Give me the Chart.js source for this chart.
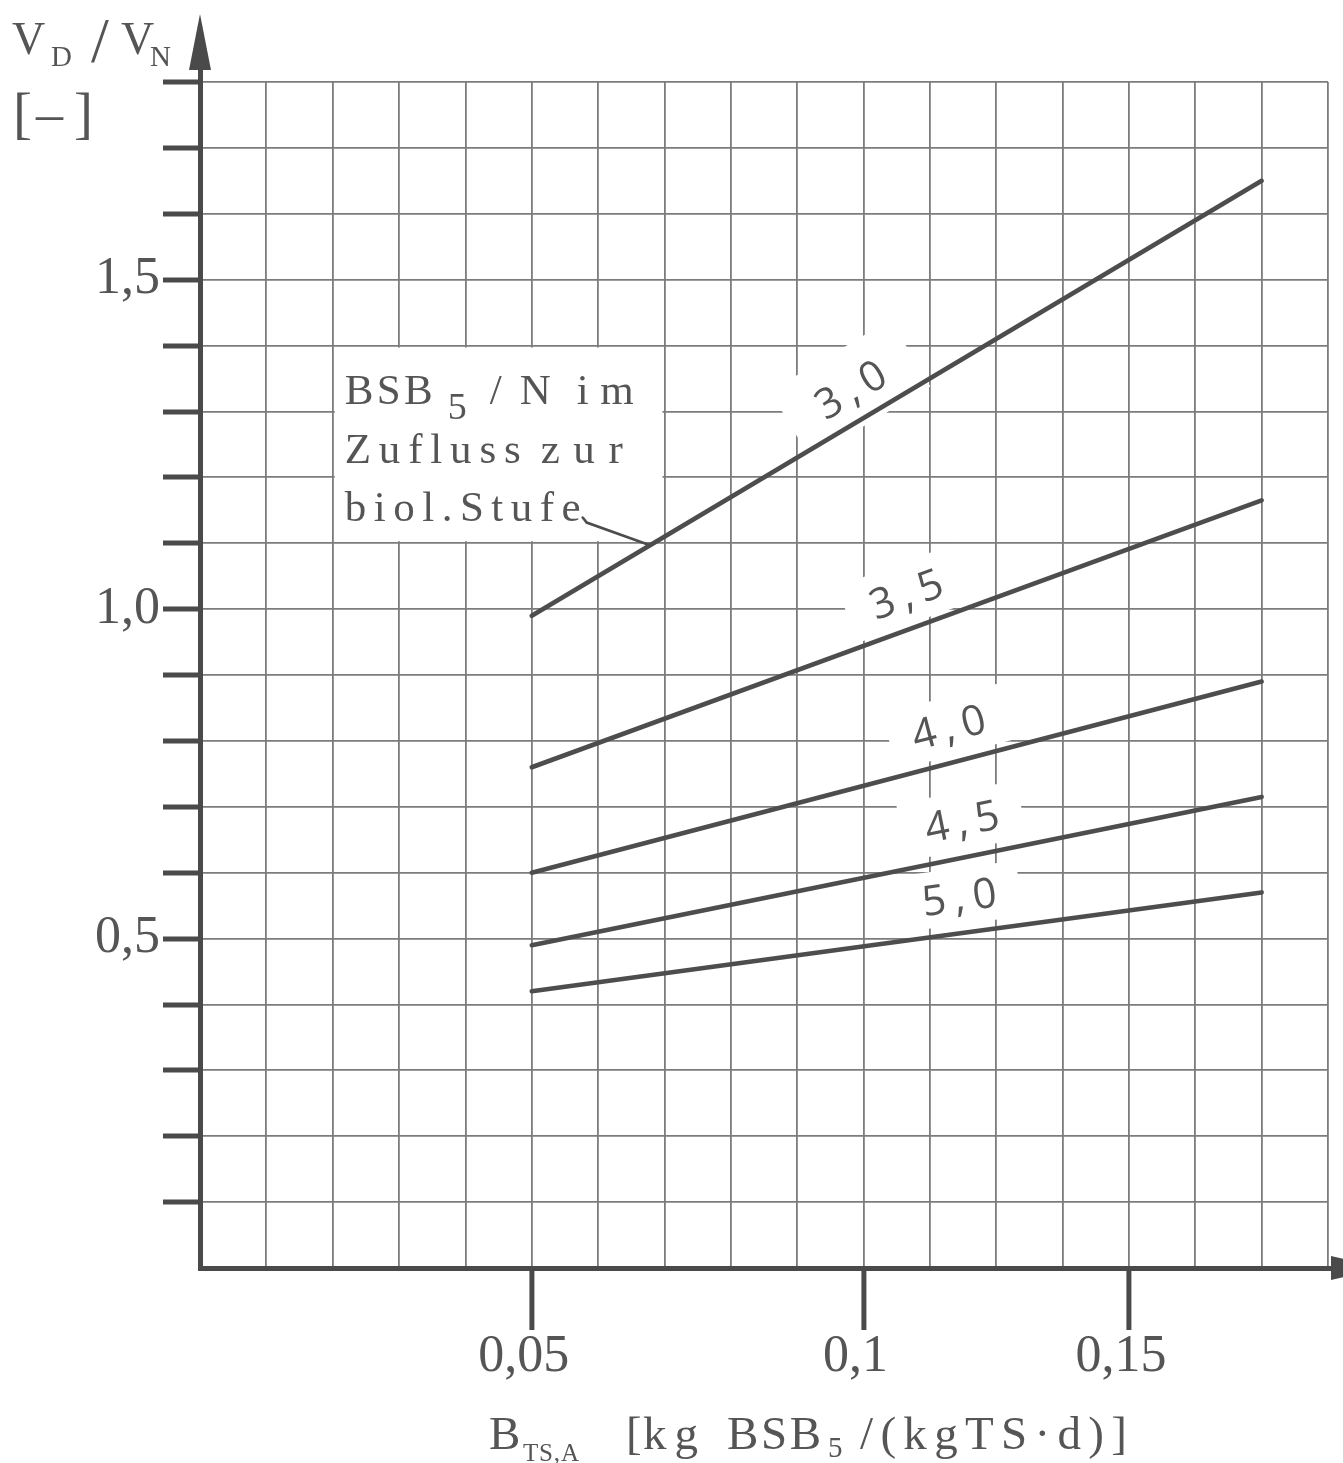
<!DOCTYPE html>
<html><head><meta charset="utf-8">
<script src="https://cdn.jsdelivr.net/npm/chart.js@4"></script>
<style>html,body{margin:0;padding:0;background:#fff;}canvas{display:block;}</style>
</head><body>
<canvas id="c" width="1343" height="1463"></canvas>
<script>
// ---- data ----
const btsValues = [0.05, 0.175];           // B_TS,A at start and end of each curve
const ratio30 = [0.99, 1.65];
const ratio35 = [0.76, 1.165];
const ratio40 = [0.60, 0.89];
const ratio45 = [0.49, 0.715];
const ratio50 = [0.42, 0.57];
const curveNames = ['3,0', '3,5', '4,0', '4,5', '5,0'];
const xTickValues = [0.05, 0.1, 0.15];
const xTickTexts = ['0,05', '0,1', '0,15'];
const yTickValues = [0.5, 1.0, 1.5];
const yTickTexts = ['0,5', '1,0', '1,5'];

// ---- style ----
const TEXT = '#555555', AXIS = '#4a4a4a', GRID = '#7c7c7c', CURVE = '#4d4d4d';
const SERIF = '"Liberation Serif", "Times New Roman", serif';
const LFONT = '"Open Sans", "DejaVu Sans", sans-serif';

// The printed x axis: 0.01 per division up to 0.1, then 0.0125 per division.
const DIVS = 17;
function valueToDiv(v) { return v <= 0.1 ? v / 0.01 : 10 + (v - 0.1) / 0.0125; }
function divToValue(d) { return d <= 10 ? d * 0.01 : 0.1 + (d - 10) * 0.0125; }

class DrawnScale extends Chart.LinearScale {
  getPixelForValue(value) {
    if (value === null || value === undefined || isNaN(value)) return NaN;
    return this.getPixelForDecimal(valueToDiv(value) / DIVS);
  }
  getValueForPixel(pixel) {
    return divToValue(this.getDecimalForPixel(pixel) * DIVS);
  }
}
DrawnScale.id = 'drawn';
DrawnScale.defaults = {};
Chart.register(DrawnScale);

function findIdx(arr, v) { return arr.findIndex(t => Math.abs(t - v) < 1e-6); }

const curveValues = [ratio30, ratio35, ratio40, ratio45, ratio50];
const datasets = curveValues.map((vals, i) => ({
  label: curveNames[i],
  data: btsValues.map((x, j) => ({ x: x, y: vals[j] })),
  borderColor: CURVE, borderWidth: 4.6, borderCapStyle: 'round',
  pointRadius: 0, tension: 0, fill: false
}));

// helpers for spaced text
function charWidths(ctx, text) { return [...text].map(c => ctx.measureText(c).width); }
function drawFit(ctx, text, x0, x1, y) {
  const chars = [...text], w = charWidths(ctx, text);
  const total = w.reduce((a, b) => a + b, 0);
  const gap = chars.length > 1 ? (x1 - x0 - total) / (chars.length - 1) : 0;
  let x = x0;
  chars.forEach((c, i) => { ctx.fillText(c, x, y); x += w[i] + gap; });
}
function drawSpacedCentered(ctx, text, cx, y, gap) {
  const chars = [...text], w = charWidths(ctx, text);
  const total = w.reduce((a, b) => a + b, 0) + gap * (chars.length - 1);
  let x = cx - total / 2;
  chars.forEach((c, i) => { ctx.fillText(c, x, y); x += w[i] + gap; });
}

const labelAt = [0.098, 0.108, 0.116, 0.1185, 0.118];
const patchSize = [[140, 78], [125, 60], [122, 58], [122, 58], [122, 56]];
function labelGeometry(chart) {
  const xs = chart.scales.x;
  return curveNames.map((n, i) => {
    const pts = chart.getDatasetMeta(i).data;
    const a = pts[0], b = pts[1];
    const angle = Math.atan2(b.y - a.y, b.x - a.x);
    const px = xs.getPixelForValue(labelAt[i]);
    const t = (px - a.x) / (b.x - a.x);
    const ly = a.y + t * (b.y - a.y);
    return { cx: px, cy: ly - 37, angle: angle, w: patchSize[i][0], h: patchSize[i][1] };
  });
}
function boxRect(chart) {
  const xs = chart.scales.x, ys = chart.scales.y;
  return { l: xs.getPixelForValue(0.02), r: xs.getPixelForValue(0.07),
           t: ys.getPixelForValue(1.4), b: ys.getPixelForValue(1.1) };
}

const drawing = {
  id: 'drawing',
  beforeDatasetsDraw(chart) {
    const ctx = chart.ctx;
    ctx.save();
    ctx.fillStyle = '#ffffff';
    const bx = boxRect(chart);
    ctx.fillRect(bx.l + 2, bx.t + 2, bx.r - bx.l - 4, bx.b - bx.t - 4);
    labelGeometry(chart).forEach(g => {
      ctx.save(); ctx.translate(g.cx, g.cy); ctx.rotate(g.angle);
      ctx.fillRect(-g.w / 2, -g.h / 2, g.w, g.h);
      ctx.restore();
    });
    ctx.restore();
  },
  afterDatasetsDraw(chart) {
    const ctx = chart.ctx;
    ctx.save();
    ctx.fillStyle = TEXT; ctx.textAlign = 'left'; ctx.textBaseline = 'alphabetic';
    // curve labels
    labelGeometry(chart).forEach((g, i) => {
      ctx.save(); ctx.translate(g.cx, g.cy); ctx.rotate(g.angle);
      ctx.font = '42px ' + LFONT;
      drawSpacedCentered(ctx, curveNames[i], 0, 15, 8);
      ctx.restore();
    });
    // annotation text
    const bx = boxRect(chart);
    const L = bx.l + 12, T = bx.t;
    ctx.font = '43px ' + SERIF;
    drawFit(ctx, 'BSB', L, L + 88, T + 58);
    ctx.font = '38px ' + SERIF;
    ctx.fillText('5', L + 103, T + 73);
    ctx.font = '43px ' + SERIF;
    drawFit(ctx, '/N', L + 145, L + 206, T + 58);
    drawFit(ctx, 'im', L + 232, L + 289, T + 58);
    drawFit(ctx, 'Zufluss', L, L + 176, T + 117);
    drawFit(ctx, 'zur', L + 196, L + 278, T + 117);
    drawFit(ctx, 'biol.Stufe', L, L + 236, T + 175);
    // leader line to the 3,0 curve
    const pts = chart.getDatasetMeta(0).data;
    const ex = 650, ey = pts[0].y + (ex - pts[0].x) / (pts[1].x - pts[0].x) * (pts[1].y - pts[0].y);
    ctx.strokeStyle = CURVE; ctx.lineWidth = 2.6; ctx.lineCap = 'round';
    ctx.beginPath();
    ctx.moveTo(L + 238, T + 172);
    ctx.lineTo(L + 242, T + 177);
    ctx.lineTo(ex, ey);
    ctx.stroke();
    ctx.restore();
  },
  afterDraw(chart) {
    const ctx = chart.ctx, ca = chart.chartArea;
    ctx.save();
    ctx.strokeStyle = AXIS; ctx.fillStyle = AXIS; ctx.lineWidth = 5;
    // y axis extension + arrow
    ctx.beginPath(); ctx.moveTo(ca.left + 0.5, ca.top + 2); ctx.lineTo(ca.left + 0.5, 60); ctx.stroke();
    ctx.beginPath(); ctx.moveTo(ca.left, 14); ctx.lineTo(ca.left - 11, 70); ctx.lineTo(ca.left + 11, 70); ctx.closePath(); ctx.fill();
    // x axis extension + arrow
    ctx.beginPath(); ctx.moveTo(ca.right - 2, ca.bottom + 0.5); ctx.lineTo(1343, ca.bottom + 0.5); ctx.stroke();
    ctx.beginPath(); ctx.moveTo(1385, ca.bottom); ctx.lineTo(1331, ca.bottom - 12); ctx.lineTo(1331, ca.bottom + 12); ctx.closePath(); ctx.fill();

    // axis titles
    ctx.fillStyle = TEXT; ctx.textAlign = 'left'; ctx.textBaseline = 'alphabetic';
    ctx.font = '46px ' + SERIF; ctx.fillText('V', 12, 54);
    ctx.font = '29px ' + SERIF; ctx.fillText('D', 51, 66);
    ctx.font = '64px ' + SERIF; ctx.fillText('/', 91, 62);
    ctx.font = '46px ' + SERIF; ctx.fillText('V', 121, 54);
    ctx.font = '29px ' + SERIF; ctx.fillText('N', 150, 66);
    ctx.font = '57px ' + SERIF; ctx.fillText('[', 13, 132);
    ctx.font = '54px ' + SERIF; ctx.fillText('\u2013', 36, 131);
    ctx.font = '57px ' + SERIF; ctx.fillText(']', 74, 132);

    ctx.font = '47px ' + SERIF; ctx.fillText('B', 489, 1449);
    ctx.font = '25px ' + SERIF; drawFit(ctx, 'TS,A', 523, 579, 1461);
    ctx.font = '47px ' + SERIF; ctx.fillText('[', 626, 1449);
    drawFit(ctx, 'kg', 643, 698, 1449);
    drawFit(ctx, 'BSB', 727, 821, 1449);
    ctx.font = '29px ' + SERIF; ctx.fillText('5', 828, 1457);
    ctx.font = '47px ' + SERIF; drawFit(ctx, '/(kgTS\u00B7d)]', 860, 1127, 1449);
    ctx.restore();
  }
};

new Chart(document.getElementById('c'), {
  type: 'line',
  data: { datasets: datasets },
  plugins: [drawing],
  options: {
    responsive: false, animation: false, devicePixelRatio: 1,
    layout: { padding: { top: 82, right: 15, left: 0, bottom: 0 } },
    plugins: { legend: { display: false }, tooltip: { enabled: false }, title: { display: false } },
    scales: {
      x: {
        type: 'drawn', min: 0, max: divToValue(DIVS),
        afterBuildTicks: s => { s.ticks = Array.from({ length: DIVS + 1 }, (_, k) => ({ value: divToValue(k) })); },
        afterFit: s => { s.height = 195; },
        grid: {
          color: GRID, lineWidth: 1.8, drawTicks: true, tickLength: 62, tickWidth: 5,
          tickColor: c => (c.tick && findIdx(xTickValues, c.tick.value) >= 0) ? AXIS : 'rgba(0,0,0,0)'
        },
        border: { display: true, color: AXIS, width: 5 },
        ticks: {
          autoSkip: false, maxRotation: 0, minRotation: 0, padding: -4, labelOffset: -8, color: TEXT,
          font: { family: SERIF, size: 52 },
          callback: v => { const i = findIdx(xTickValues, v); return i >= 0 ? xTickTexts[i] : ''; }
        }
      },
      y: {
        type: 'linear', min: 0, max: 1.8,
        afterBuildTicks: s => { s.ticks = Array.from({ length: 19 }, (_, k) => ({ value: k / 10 })); },
        afterFit: s => { s.width = 200; },
        grid: {
          color: GRID, lineWidth: 1.8, drawTicks: true, tickLength: 37, tickWidth: 5,
          tickColor: c => (c.tick && c.tick.value > 1e-6) ? AXIS : 'rgba(0,0,0,0)'
        },
        border: { display: true, color: AXIS, width: 5 },
        ticks: {
          autoSkip: false, padding: 3, color: TEXT,
          font: { family: SERIF, size: 52 },
          callback: v => { const i = findIdx(yTickValues, v); return i >= 0 ? yTickTexts[i] : ''; }
        }
      }
    }
  }
});
</script>
</body></html>
